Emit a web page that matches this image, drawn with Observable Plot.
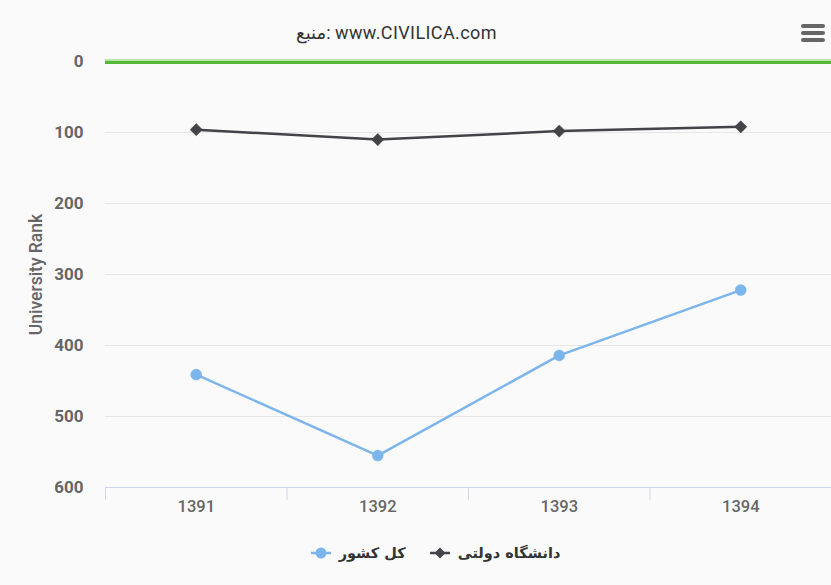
<!DOCTYPE html>
<html>
<head>
<meta charset="utf-8">
<script src="https://cdn.jsdelivr.net/npm/d3@7"></script>
<script src="https://cdn.jsdelivr.net/npm/@observablehq/plot@0.6"></script>
<style>
  html, body { margin: 0; padding: 0; background: #fafafa; }
  #wrap { position: relative; width: 831px; height: 585px; background: #fafafa; font-family: Roboto, "DejaVu Sans", sans-serif; overflow: hidden; }
  #title { height: 40px; width: 831px; box-sizing: border-box; padding-right: 38px; display: flex; align-items: center; justify-content: center; font-size: 18px; letter-spacing: 0.4px; color: #333; padding-top: 26px; line-height: 14px; }
  #menu { position: absolute; left: 801px; top: 24px; width: 24px; height: 21px; }
  #menu div { height: 3.5px; background: #666; border-radius: 2px; margin-bottom: 3.5px; }
  #legend { position: absolute; top: 540px; left: 0; width: 831px; height: 26px; display: flex; align-items: center; justify-content: center; gap: 24px; padding-left: 40px; box-sizing: border-box; }
  .item { display: flex; align-items: center; gap: 8px; font-size: 14.5px; font-weight: bold; color: #333; font-family: "DejaVu Sans", sans-serif; }
</style>
</head>
<body>
<div id="wrap">
  <div id="title"></div>
  <div id="menu"><div></div><div></div><div></div></div>
  <div id="chart"></div>
  <div id="legend"></div>
</div>
<script>
const titleText = "منبع: www.CIVILICA.com";
const yAxisTitle = "University Rank";
const years = [1391, 1392, 1393, 1394];
const seriesNames = ["دانشگاه دولتی", "کل کشور"];
const stateUniversity = [96, 110, 98, 92];
const wholeCountry = [441, 555, 414, 322];
const yTicks = [0, 100, 200, 300, 400, 500, 600];
const colors = ["#434348", "#7cb5ec"];
const symbols = ["diamond2", "circle"];
const baselineValue = 0;

document.getElementById("title").textContent = titleText;

const rowsState = years.map((yr, i) => ({ year: yr, rank: stateUniversity[i] }));
const rowsCountry = years.map((yr, i) => ({ year: yr, rank: wholeCountry[i] }));
const boundaries = years.map(y => y - 0.5).concat([years[years.length - 1] + 0.5]);

const chart = Plot.plot({
  width: 831,
  height: 500,
  marginTop: 21,
  marginBottom: 53,
  marginLeft: 105,
  marginRight: 0,
  style: { background: "transparent", fontFamily: 'Roboto, "DejaVu Sans", sans-serif', overflow: "visible" },
  x: { type: "linear", domain: [boundaries[0], boundaries[boundaries.length - 1]] },
  y: { domain: [yTicks[0], yTicks[yTicks.length - 1]], reverse: true },
  marks: [
    Plot.gridY(yTicks, { stroke: "#e6e6e6", strokeOpacity: 1, strokeWidth: 1 }),
    Plot.ruleY([yTicks[yTicks.length - 1]], { stroke: "#ccd6eb", strokeWidth: 1 }),
    Plot.ruleY([baselineValue], { stroke: "#a6dc8e", strokeWidth: 1.5, dy: -1.5 }),
    Plot.ruleY([baselineValue], { stroke: "#55b737", strokeWidth: 3, dy: 1 }),
    Plot.axisX(boundaries, { tickSize: 13, tickFormat: () => "", stroke: "#ccd6eb", label: null }),
    Plot.axisX(years, { tickSize: 0, tickPadding: 13, tickFormat: d => String(d), fontSize: 16.5, fontWeight: 500, fill: "#666", label: null }),
    Plot.axisY(yTicks, { tickSize: 0, tickPadding: 22, fontSize: 17, fontWeight: "bold", fill: "#666", label: null }),
    Plot.text([yAxisTitle], { frameAnchor: "left", textAnchor: "middle", dx: -69, rotate: -90, text: d => d, fontSize: 17.5, fill: "#666", fontWeight: 500 }),
    Plot.line(rowsState, { x: "year", y: "rank", stroke: colors[0], strokeWidth: 2.5 }),
    Plot.dot(rowsState, { x: "year", y: "rank", symbol: symbols[0], r: 5.5, fill: colors[0], stroke: colors[0], strokeWidth: 0.5 }),
    Plot.line(rowsCountry, { x: "year", y: "rank", stroke: colors[1], strokeWidth: 2.5 }),
    Plot.dot(rowsCountry, { x: "year", y: "rank", symbol: symbols[1], r: 5.5, fill: colors[1], stroke: colors[1], strokeWidth: 0.5 })
  ]
});
document.getElementById("chart").appendChild(chart);

// Legend: blue (کل کشور) on the left, then black (دانشگاه دولتی)
const legend = document.getElementById("legend");
[1, 0].forEach(i => {
  const item = document.createElement("div");
  item.className = "item";
  const sw = d3.create("svg").attr("width", 20).attr("height", 14);
  sw.append("line").attr("x1", 0).attr("x2", 20).attr("y1", 7).attr("y2", 7).attr("stroke", colors[i]).attr("stroke-width", 2.5);
  const sym = i === 1 ? d3.symbolCircle : d3.symbolDiamond2;
  sw.append("path").attr("d", d3.symbol(sym, i === 1 ? 95 : 75)()).attr("transform", "translate(10,7)").attr("fill", colors[i]);
  item.appendChild(sw.node());
  const t = document.createElement("span");
  t.textContent = seriesNames[i];
  item.appendChild(t);
  legend.appendChild(item);
});
</script>
</body>
</html>
